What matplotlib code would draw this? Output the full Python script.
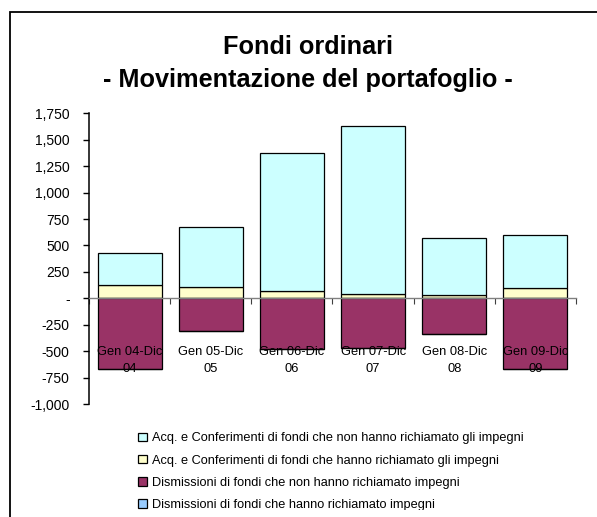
import matplotlib
matplotlib.use("Agg")
import matplotlib.pyplot as plt
from matplotlib.patches import Rectangle
from matplotlib.ticker import FuncFormatter
from matplotlib.transforms import Bbox
import numpy as np

plt.rcParams['font.family'] = ['Liberation Sans', 'DejaVu Sans']

categories = ["Gen 04-Dic\n04", "Gen 05-Dic\n05", "Gen 06-Dic\n06",
              "Gen 07-Dic\n07", "Gen 08-Dic\n08", "Gen 09-Dic\n09"]
acq_richiamato = [130, 110, 65, 40, 35, 100]
acq_non_richiamato = [295, 565, 1305, 1590, 535, 495]
dism_non_richiamato = [-670, -305, -480, -470, -340, -670]
dism_richiamato = [0, 0, 0, 0, 0, 0]

series_labels = [
    "Acq. e Conferimenti di fondi che non hanno richiamato gli impegni",
    "Acq. e Conferimenti di fondi che hanno richiamato gli impegni",
    "Dismissioni di fondi che non hanno richiamato impegni",
    "Dismissioni di fondi che hanno richiamato impegni",
]
colors = ["#CCFFFF", "#FFFFCC", "#993366", "#99CCFF"]

W, H = 597, 517
fig = plt.figure(figsize=(W / 100, H / 100), dpi=100)

# chart frame
fig.patches.append(Rectangle((10 / W, -0.1), 1.2, 1 - 12 / H + 0.1,
                             transform=fig.transFigure, fill=False,
                             edgecolor="black", linewidth=1.3, zorder=0))

ax = fig.add_axes([89 / W, 1 - 404 / H, 487 / W, (404 - 113.3) / H])
x = np.arange(len(categories))
bw = 0.79
b_yellow = ax.bar(x, acq_richiamato, bw, color=colors[1], edgecolor="black", linewidth=0.9)
b_cyan = ax.bar(x, acq_non_richiamato, bw, bottom=acq_richiamato, color=colors[0],
                edgecolor="black", linewidth=0.9)
b_maroon = ax.bar(x, dism_non_richiamato, bw, color=colors[2], edgecolor="black", linewidth=0.9)
b_blue = ax.bar(x, dism_richiamato, bw, bottom=dism_non_richiamato, color=colors[3],
                edgecolor="black", linewidth=0.9)

ax.set_xlim(-0.5, len(categories) - 0.5)
ax.set_ylim(-1000, 1750)
ax.set_yticks(np.arange(-1000, 1751, 250))
ax.yaxis.set_major_formatter(FuncFormatter(lambda v, p: "-" if v == 0 else f"{v:,.0f}"))
ax.tick_params(axis="y", direction="out", length=4, width=1, labelsize=10, pad=10)

ax.spines["top"].set_visible(False)
ax.spines["right"].set_visible(False)
ax.spines["left"].set_linewidth(1.1)
ax.spines["bottom"].set_position(("data", 0))
ax.spines["bottom"].set_color("#808080")
ax.spines["bottom"].set_linewidth(1.0)

ax.set_xticks(np.arange(-0.5, len(categories) + 0.5, 1))
ax.set_xticklabels([])
ax.tick_params(axis="x", which="major", direction="out", length=4, color="#404040")
ax.set_xticks(x, minor=True)
ax.set_xticklabels(categories, minor=True, fontsize=9.3, linespacing=1.6)
ax.tick_params(axis="x", which="minor", length=0, pad=34)

fig.text(308 / W, 1 - 47 / H, "Fondi ordinari", ha="center", va="center",
         fontsize=18.2, fontweight="bold")
fig.text(308 / W, 1 - 80 / H, "- Movimentazione del portafoglio -", ha="center",
         va="center", fontsize=18.2, fontweight="bold")

handles = [b_cyan, b_yellow, b_maroon, b_blue]
leg = fig.legend(handles, series_labels, loc="upper left",
                 bbox_to_anchor=(132 / W, 1 - 426 / H), frameon=False,
                 fontsize=9.2, handlelength=0.65, handleheight=0.65,
                 handletextpad=0.45, labelspacing=0.8, borderpad=0)

clip = Bbox.from_extents(0, H - 510, W, H)
for t in leg.get_texts():
    t.set_clip_box(clip)
    t.set_clip_on(True)

fig.savefig("out.png", dpi=100)
